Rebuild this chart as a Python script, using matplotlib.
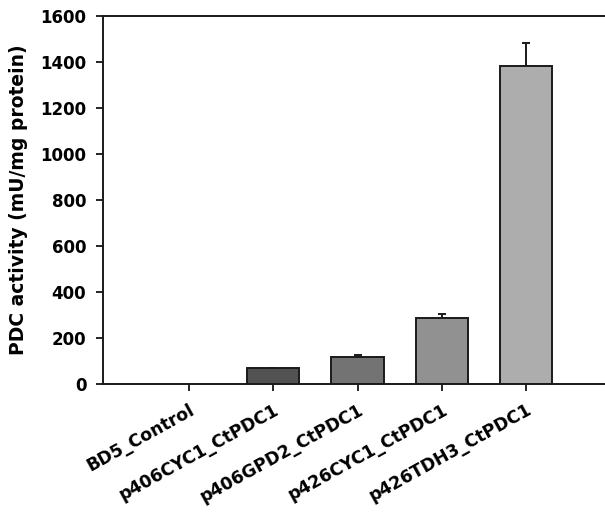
import matplotlib
matplotlib.use("Agg")
import matplotlib.pyplot as plt
import numpy as np

# PDC activity per strain
strains = ["BD5_Control", "p406CYC1_CtPDC1", "p406GPD2_CtPDC1",
           "p426CYC1_CtPDC1", "p426TDH3_CtPDC1"]
activity = [0, 70, 119, 286, 1384]
activity_err = [0, 1, 5, 18, 97]
bar_colors = ["#ffffff", "#525252", "#737373", "#919191", "#adadad"]

plt.rcParams["font.family"] = ["DejaVu Sans"]

fig = plt.figure(figsize=(6.05, 5.13), dpi=100)
ax = fig.add_axes([103 / 605, 129 / 513, 509 / 605, 368 / 513])

x = np.arange(len(strains))
heights = np.array(activity, dtype=float)
errs = np.array(activity_err, dtype=float)

# control has no measurable activity: draw no bar for it
show = heights > 0
ax.bar(x[show], heights[show], width=0.62, color=np.array(bar_colors)[show],
       edgecolor="#1a1a1a", linewidth=1.4, zorder=2)
ax.errorbar(x[show], heights[show],
            yerr=[np.zeros(show.sum()), errs[show]],
            fmt="none", ecolor="#1a1a1a", elinewidth=1.4,
            capsize=3.2, capthick=1.4, zorder=1)

ax.set_xlim(-1.02, 5.02)
ax.set_ylim(0, 1600)
ax.set_yticks(np.arange(0, 1601, 200))
ax.set_xticks(x)
ax.set_xticklabels(strains, rotation=29, ha="right", rotation_mode="anchor",
                   fontsize=12.5, fontweight="bold")
for lab in ax.get_yticklabels():
    lab.set_fontsize(12)
    lab.set_fontweight("bold")

ax.tick_params(axis="y", direction="out", length=5, width=1.2, pad=7)
ax.tick_params(axis="x", direction="out", length=5, width=1.2, pad=7)

for side in ["left", "bottom", "top"]:
    ax.spines[side].set_linewidth(1.4)
    ax.spines[side].set_color("#1a1a1a")
ax.spines["right"].set_visible(False)

ax.set_ylabel("PDC activity (mU/mg protein)", fontsize=13.5, fontweight="bold",
              labelpad=9)

fig.savefig("out.png", dpi=100)
